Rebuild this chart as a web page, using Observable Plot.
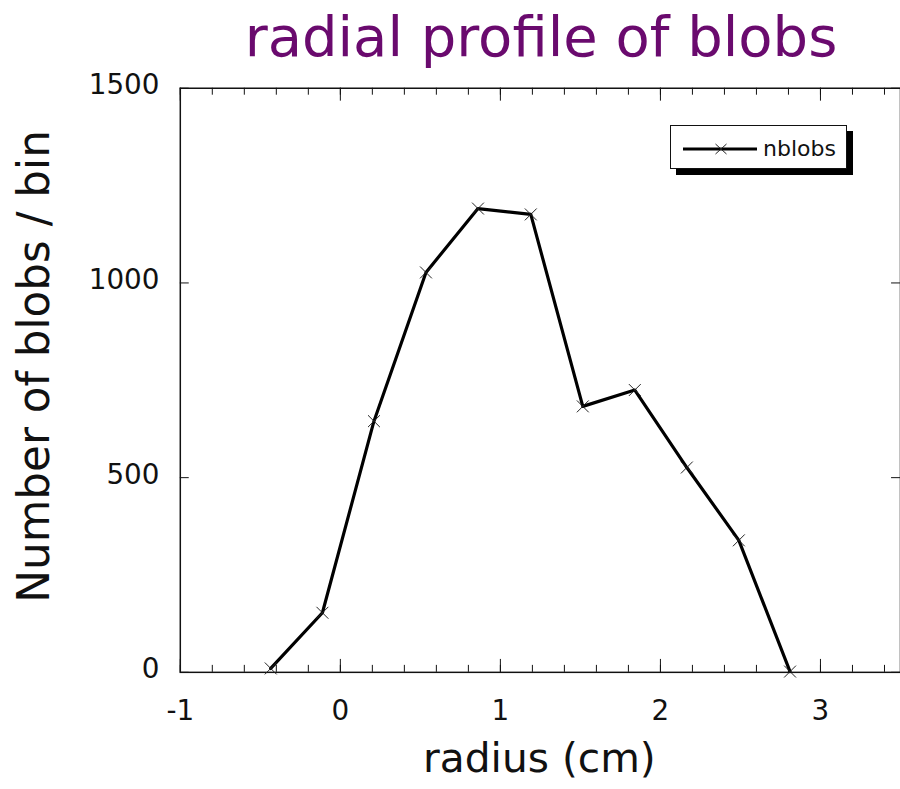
<!DOCTYPE html>
<html>
<head>
<meta charset="utf-8">
<script src="https://cdn.jsdelivr.net/npm/d3@7"></script>
<script src="https://cdn.jsdelivr.net/npm/@observablehq/plot@0.6"></script>
<style>
  html, body { margin: 0; padding: 0; background: #fff; overflow: hidden; width: 900px; height: 789px; }
  #wrap { position: relative; width: 900px; height: 789px; overflow: hidden; font-family: "DejaVu Sans", sans-serif; }
  #title { position: relative; height: 50px; }
  #title span { position: absolute; left: 541px; top: 4px; transform: translateX(-50%); white-space: nowrap;
    font-size: 56px; line-height: normal; color: #6a0a6e; }
  #chart svg { display: block; overflow: hidden; }
  #legend { position: absolute; left: 670px; top: 125px; width: 175px; height: 42px; border: 1.5px solid #111;
    background: #fff; box-shadow: 6px 6px 0 #000; }
  #legend svg { position: absolute; left: 0; top: 0; }
</style>
</head>
<body>
<div id="wrap">
  <div id="title"><span>radial profile of blobs</span></div>
  <div id="chart"></div>
  <div id="legend">
    <svg width="175" height="42">
      <line x1="12" y1="23" x2="86" y2="23" stroke="#000" stroke-width="3"/>
      <path d="M44.5,18L55.5,28M44.5,28L55.5,18" stroke="#222" stroke-width="1"/>
      <text x="92" y="30" font-size="22" fill="#111" font-family="DejaVu Sans">nblobs</text>
    </svg>
  </div>
</div>
<script>
// Data
const radius = [-0.435, -0.112, 0.21, 0.535, 0.86, 1.19, 1.515, 1.84, 2.165, 2.49, 2.81];
const nblobs = [10, 153, 645, 1027, 1191, 1176, 683, 725, 526, 339, 2];
const xTicks = [-1, 0, 1, 2, 3];
const xMinor = d3.range(-5, 18).map(i => i / 5);
const yTicks = [0, 500, 1000, 1500];

const data = radius.map((r, i) => ({radius: r, nblobs: nblobs[i]}));

const W = 906, H = 739, mt = 38, mb = 113, ml = 181, mr = 0;
const ih = H - mt - mb;
const iw = W - ml - mr;
const ink = "#111";

const chart = Plot.plot({
  width: W, height: H,
  marginTop: mt, marginBottom: mb, marginLeft: ml, marginRight: mr,
  style: {fontFamily: "DejaVu Sans", background: "white", color: ink, overflow: "hidden"},
  x: {domain: [-1, 3.5]},
  y: {domain: [0, 1500]},
  marks: [
    // inward ticks
    Plot.tickX(xMinor, {x: d => d, insetTop: ih - 7, stroke: ink, strokeWidth: 1}),
    Plot.tickX(xTicks, {x: d => d, insetTop: ih - 13, stroke: ink, strokeWidth: 1}),
    Plot.tickX(xMinor, {x: d => d, insetBottom: ih - 7, stroke: ink, strokeWidth: 1}),
    Plot.tickX(xTicks, {x: d => d, insetBottom: ih - 13, stroke: ink, strokeWidth: 1}),
    Plot.tickY(yTicks, {y: d => d, insetRight: iw - 9, stroke: ink, strokeWidth: 1}),
    Plot.tickY(yTicks, {y: d => d, insetLeft: iw - 9, stroke: ink, strokeWidth: 1}),
    Plot.frame({stroke: ink, strokeWidth: 1.5}),
    // tick labels
    Plot.axisX(xTicks, {tickSize: 0, tickPadding: 28, fontSize: 28, tickFormat: d => String(d), label: null}),
    Plot.axisY(yTicks, {tickSize: 0, tickPadding: 21, fontSize: 28, tickFormat: d => String(d), label: null, dy: -3}),
    // axis titles
    Plot.text(["radius (cm)"], {text: d => d, frameAnchor: "bottom", textAnchor: "middle", lineAnchor: "bottom", dx: -1, dy: 100, fontSize: 41, fill: ink}),
    Plot.text(["Number of blobs / bin"], {text: d => d, frameAnchor: "left", textAnchor: "middle", lineAnchor: "middle", rotate: -90, dx: -146, dy: -14, fontSize: 44, fill: ink}),
    // data
    Plot.line(data, {x: "radius", y: "nblobs", stroke: "#000", strokeWidth: 3.2}),
    Plot.dot(data, {x: "radius", y: "nblobs", symbol: "times", r: 5.5, stroke: "#222", strokeWidth: 1})
  ]
});
document.getElementById("chart").appendChild(chart);
</script>
</body>
</html>
